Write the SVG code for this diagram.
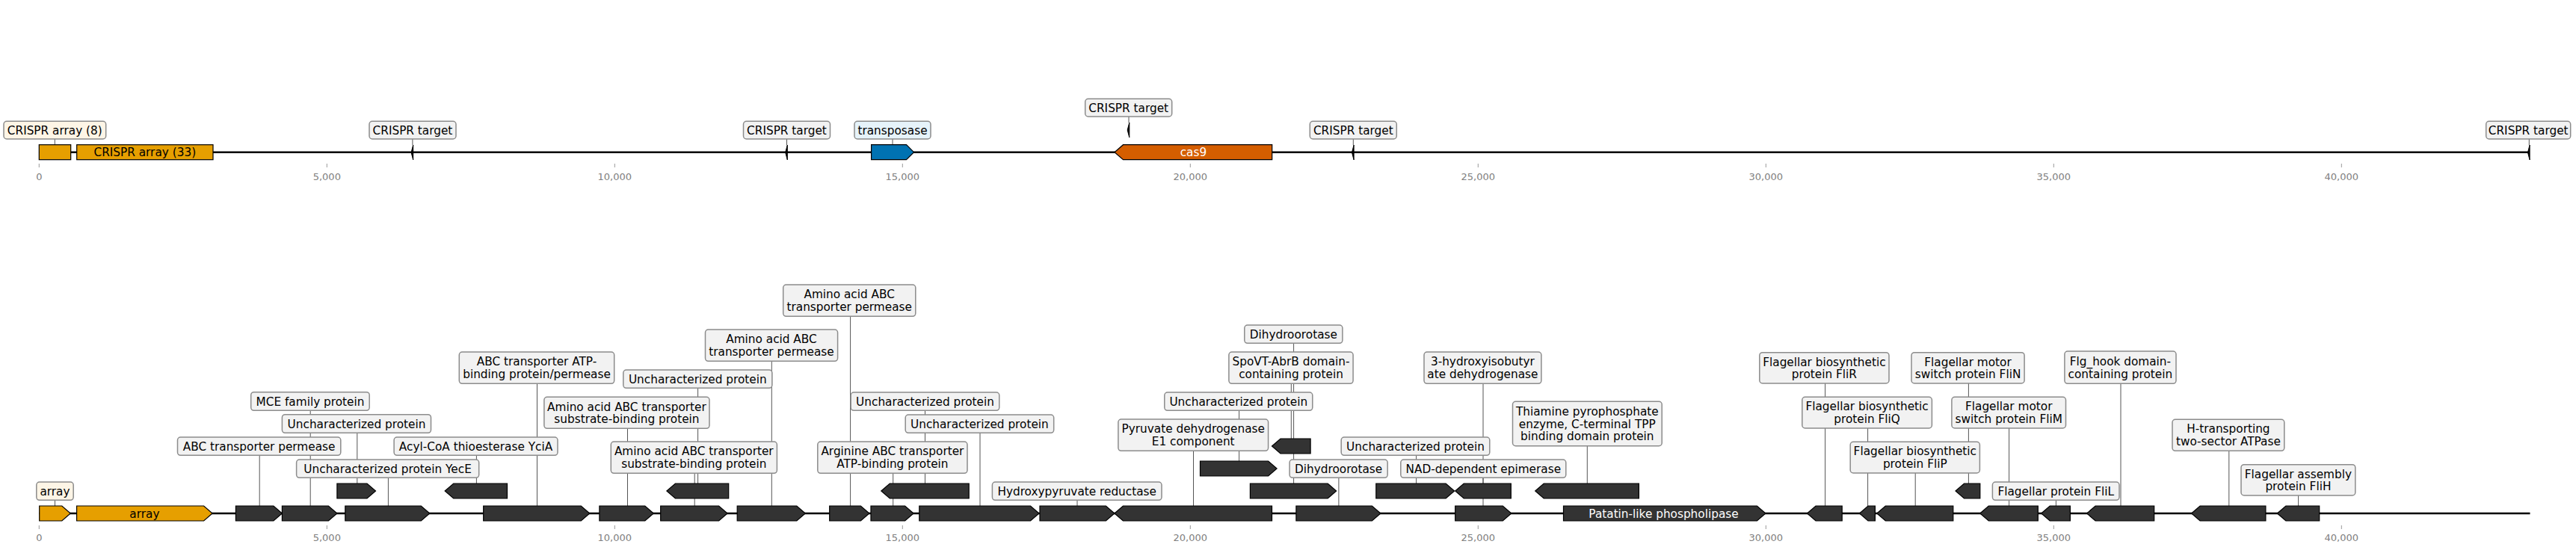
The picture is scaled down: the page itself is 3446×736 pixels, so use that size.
<svg xmlns="http://www.w3.org/2000/svg" width="3446" height="736" viewBox="0 0 3446 736">
<style>
text{font-family:"DejaVu Sans","Liberation Sans",sans-serif}
.t{font-size:15.3px;text-anchor:middle;fill:#000}
.tw{font-size:15.3px;text-anchor:middle;fill:#fff}
.tk{font-size:13px;text-anchor:middle;fill:#808080}
.bx{fill:#f2f2f2;stroke:#8c8c8c;stroke-width:1.5;rx:4px;ry:4px}
.bo{fill:#fdf5e6;stroke:#8c8c8c;stroke-width:1.5;rx:4px;ry:4px}
.bb{fill:#e6f3fa;stroke:#8c8c8c;stroke-width:1.5;rx:4px;ry:4px}
.g{fill:#333;stroke:#000;stroke-width:1.2}
.go{fill:#e69f00;stroke:#000;stroke-width:1.2}
.gb{fill:#0072b2;stroke:#000;stroke-width:1.2}
.gr{fill:#d55e00;stroke:#000;stroke-width:1.2}
.mk{fill:#000;stroke:#000;stroke-width:1}
.bk{stroke:#000;stroke-width:2.4;fill:none}
.c{stroke:#555;stroke-width:1;fill:none}
.tm{stroke:#999;stroke-width:1}
</style>
<rect width="3446" height="736" fill="#fff"/>

<g id="axes">
<line class="bk" x1="52.3" y1="203.7" x2="3383.3" y2="203.7"/>
<line class="bk" x1="52.3" y1="687" x2="3384.5" y2="687"/>
<g id="ticks-top">
<line class="tm" x1="52.3" y1="219" x2="52.3" y2="224"/><text class="tk" x="52.3" y="240.5">0</text>
<line class="tm" x1="437.3" y1="219" x2="437.3" y2="224"/><text class="tk" x="437.3" y="240.5">5,000</text>
<line class="tm" x1="822.3" y1="219" x2="822.3" y2="224"/><text class="tk" x="822.3" y="240.5">10,000</text>
<line class="tm" x1="1207.3" y1="219" x2="1207.3" y2="224"/><text class="tk" x="1207.3" y="240.5">15,000</text>
<line class="tm" x1="1592.3" y1="219" x2="1592.3" y2="224"/><text class="tk" x="1592.3" y="240.5">20,000</text>
<line class="tm" x1="1977.3" y1="219" x2="1977.3" y2="224"/><text class="tk" x="1977.3" y="240.5">25,000</text>
<line class="tm" x1="2362.3" y1="219" x2="2362.3" y2="224"/><text class="tk" x="2362.3" y="240.5">30,000</text>
<line class="tm" x1="2747.3" y1="219" x2="2747.3" y2="224"/><text class="tk" x="2747.3" y="240.5">35,000</text>
<line class="tm" x1="3132.3" y1="219" x2="3132.3" y2="224"/><text class="tk" x="3132.3" y="240.5">40,000</text>
</g>
<g id="ticks-bottom">
<line class="tm" x1="52.3" y1="703" x2="52.3" y2="708"/><text class="tk" x="52.3" y="724">0</text>
<line class="tm" x1="437.3" y1="703" x2="437.3" y2="708"/><text class="tk" x="437.3" y="724">5,000</text>
<line class="tm" x1="822.3" y1="703" x2="822.3" y2="708"/><text class="tk" x="822.3" y="724">10,000</text>
<line class="tm" x1="1207.3" y1="703" x2="1207.3" y2="708"/><text class="tk" x="1207.3" y="724">15,000</text>
<line class="tm" x1="1592.3" y1="703" x2="1592.3" y2="708"/><text class="tk" x="1592.3" y="724">20,000</text>
<line class="tm" x1="1977.3" y1="703" x2="1977.3" y2="708"/><text class="tk" x="1977.3" y="724">25,000</text>
<line class="tm" x1="2362.3" y1="703" x2="2362.3" y2="708"/><text class="tk" x="2362.3" y="724">30,000</text>
<line class="tm" x1="2747.3" y1="703" x2="2747.3" y2="708"/><text class="tk" x="2747.3" y="724">35,000</text>
<line class="tm" x1="3132.3" y1="703" x2="3132.3" y2="708"/><text class="tk" x="3132.3" y="724">40,000</text>
</g>
</g>

<g id="connectors">
<line class="c" x1="73.3" y1="186" x2="73.3" y2="193.7"/>
<line class="c" x1="551.9" y1="186" x2="551.9" y2="194"/>
<line class="c" x1="1052.5" y1="186" x2="1052.5" y2="194"/>
<line class="c" x1="1194" y1="186" x2="1194" y2="193.7"/>
<line class="c" x1="1510" y1="156" x2="1510" y2="164"/>
<line class="c" x1="1810.3" y1="186" x2="1810.3" y2="194"/>
<line class="c" x1="3383.3" y1="186" x2="3383.3" y2="194"/>

<line class="c" x1="73.5" y1="677" x2="73.5" y2="669.3"/>
<line class="c" x1="347.2" y1="677" x2="347.2" y2="609.3"/>
<line class="c" x1="415.2" y1="677" x2="415.2" y2="549.3"/>
<line class="c" x1="477.8" y1="647" x2="477.8" y2="579.3"/>
<line class="c" x1="519.4" y1="677" x2="519.4" y2="639.3"/>
<line class="c" x1="637.4" y1="647" x2="637.4" y2="609.3"/>
<line class="c" x1="718.5" y1="677" x2="718.5" y2="513.3"/>
<line class="c" x1="839.5" y1="677" x2="839.5" y2="573.3"/>
<line class="c" x1="929.2" y1="677" x2="929.2" y2="633.3"/>
<line class="c" x1="933.6" y1="647" x2="933.6" y2="519.3"/>
<line class="c" x1="1032.3" y1="677" x2="1032.3" y2="483.3"/>
<line class="c" x1="1137.6" y1="677" x2="1137.6" y2="423.3"/>
<line class="c" x1="1194.7" y1="677" x2="1194.7" y2="633.3"/>
<line class="c" x1="1237.5" y1="647" x2="1237.5" y2="549.3"/>
<line class="c" x1="1311" y1="677" x2="1311" y2="579.3"/>
<line class="c" x1="1441" y1="677" x2="1441" y2="669.3"/>
<line class="c" x1="1596.5" y1="677" x2="1596.5" y2="603.3"/>
<line class="c" x1="1657.6" y1="617" x2="1657.6" y2="549.3"/>
<line class="c" x1="1727.3" y1="587" x2="1727.3" y2="513.3"/>
<line class="c" x1="1730.6" y1="647" x2="1730.6" y2="459.3"/>
<line class="c" x1="1790.9" y1="677" x2="1790.9" y2="639.3"/>
<line class="c" x1="1894.6" y1="647" x2="1894.6" y2="609.3"/>
<line class="c" x1="1984" y1="647" x2="1984" y2="639.3"/>
<line class="c" x1="1984" y1="677" x2="1984" y2="513.3"/>
<line class="c" x1="2123.3" y1="647" x2="2123.3" y2="596.7"/>
<line class="c" x1="2441.6" y1="677" x2="2441.6" y2="513"/>
<line class="c" x1="2498.6" y1="677" x2="2498.6" y2="573"/>
<line class="c" x1="2562.2" y1="677" x2="2562.2" y2="633"/>
<line class="c" x1="2633.4" y1="647" x2="2633.4" y2="513"/>
<line class="c" x1="2687.6" y1="677" x2="2687.6" y2="573"/>
<line class="c" x1="2750.4" y1="677" x2="2750.4" y2="669.3"/>
<line class="c" x1="2837" y1="677" x2="2837" y2="513.3"/>
<line class="c" x1="2981.8" y1="677" x2="2981.8" y2="603.3"/>
<line class="c" x1="3074.6" y1="677" x2="3074.6" y2="663"/>
</g>

<!-- top track -->
<g id="t-array8"><rect class="go" x="52.3" y="193.7" width="42.4" height="20"/>
<rect class="bo" x="5" y="162.3" width="136.7" height="23.7"/><text class="t" x="73.3" y="179.6">CRISPR array (8)</text></g>
<g id="t-array33"><rect class="go" x="102.7" y="193.7" width="182.3" height="20"/><text class="t" x="193.8" y="209.2">CRISPR array (33)</text></g>
<g id="t-target1"><polygon class="mk" points="552.7,194 552.7,214 550.1,204"/>
<rect class="bx" x="494" y="162.3" width="116" height="23.7"/><text class="t" x="552" y="179.6">CRISPR target</text></g>
<g id="t-target2"><polygon class="mk" points="1053.3,194 1053.3,214 1050.7,204"/>
<rect class="bx" x="994.5" y="162.3" width="116" height="23.7"/><text class="t" x="1052.5" y="179.6">CRISPR target</text></g>
<g id="t-transposase"><polygon class="gb" points="1165.6,193.7 1212.5,193.7 1222.5,203.7 1212.5,213.7 1165.6,213.7"/>
<rect class="bb" x="1143" y="162.3" width="102" height="23.7"/><text class="t" x="1194" y="179.6">transposase</text></g>
<g id="t-target-cas"><polygon class="mk" points="1510.8,164 1510.8,184 1508.2,174"/>
<rect class="bx" x="1451.7" y="132.3" width="116" height="23.7"/><text class="t" x="1509.7" y="149.6">CRISPR target</text></g>
<g id="t-cas9"><polygon class="gr" points="1491,203.7 1502.5,193.7 1701.7,193.7 1701.7,213.7 1502.5,213.7"/><text class="tw" x="1596.4" y="209.2">cas9</text></g>
<g id="t-target3"><polygon class="mk" points="1811.1,194 1811.1,214 1808.5,204"/>
<rect class="bx" x="1752.3" y="162.3" width="116" height="23.7"/><text class="t" x="1810.3" y="179.6">CRISPR target</text></g>
<g id="t-target4"><polygon class="mk" points="3384.1,194 3384.1,214 3381.5,204"/>
<rect class="bx" x="3325.7" y="162.3" width="113" height="23.7"/><text class="t" x="3382.2" y="179.6">CRISPR target</text></g>

<!-- bottom track -->
<g id="b1"><polygon class="go" points="52.7,677 82.8,677 94.3,687 82.8,697 52.7,697"/>
<rect class="bo" x="48.8" y="645" width="49.4" height="24.3"/><text class="t" x="73.5" y="662.6">array</text></g>
<g id="b2"><polygon class="go" points="102.6,677 272.6,677 284.1,687 272.6,697 102.6,697"/><text class="t" x="193.4" y="692.5">array</text></g>
<g id="b3"><polygon class="g" points="315.4,677 365.9,677 377.4,687 365.9,697 315.4,697"/>
<rect class="bx" x="237.5" y="585" width="218.3" height="24.3"/><text class="t" x="346.6" y="602.6">ABC transporter permease</text></g>
<g id="b4"><polygon class="g" points="377.4,677 439.4,677 450.9,687 439.4,697 377.4,697"/>
<rect class="bx" x="335.7" y="524.7" width="158.5" height="24.6"/><text class="t" x="415" y="542.5">MCE family protein</text></g>
<g id="b5"><polygon class="g" points="450.9,647 491,647 502.5,657 491,667 450.9,667"/>
<rect class="bx" x="377.4" y="554.7" width="199.1" height="24.6"/><text class="t" x="477" y="572.5">Uncharacterized protein</text></g>
<g id="b6"><polygon class="g" points="461.8,677 563.3,677 574.8,687 563.3,697 461.8,697"/>
<rect class="bx" x="396.6" y="615" width="244.1" height="24.3"/><text class="t" x="518.6" y="632.6">Uncharacterized protein YecE</text></g>
<g id="b7"><polygon class="g" points="595.2,657 606.7,647 678.5,647 678.5,667 606.7,667"/>
<rect class="bx" x="527.1" y="585" width="218.9" height="24.3"/><text class="t" x="636.5" y="602.6">Acyl-CoA thioesterase YciA</text></g>
<g id="b8"><polygon class="g" points="646.7,677 777.3,677 788.8,687 777.3,697 646.7,697"/>
<rect class="bx" x="614.3" y="471" width="207.4" height="42.3"/><text class="t" x="718" y="489.3">ABC transporter ATP-<tspan x="718" y="506">binding protein/permease</tspan></text></g>
<g id="b9"><polygon class="g" points="801.9,677 862.8,677 874.3,687 862.8,697 801.9,697"/>
<rect class="bx" x="727.9" y="531.3" width="221.1" height="42"/><text class="t" x="838.4" y="549.5">Amino acid ABC transporter<tspan x="838.4" y="566.2">substrate-binding protein</tspan></text></g>
<g id="b10"><polygon class="g" points="883.7,677 961.6,677 973.1,687 961.6,697 883.7,697"/>
<rect class="bx" x="817.3" y="591" width="222.1" height="42.3"/><text class="t" x="928.3" y="609.3">Amino acid ABC transporter<tspan x="928.3" y="626">substrate-binding protein</tspan></text></g>
<g id="b11"><polygon class="g" points="891.9,657 903.4,647 974.7,647 974.7,667 903.4,667"/>
<rect class="bx" x="833.8" y="495" width="199.1" height="24.3"/><text class="t" x="933.3" y="512.6">Uncharacterized protein</text></g>
<g id="b12"><polygon class="g" points="986.2,677 1065.8,677 1077.3,687 1065.8,697 986.2,697"/>
<rect class="bx" x="943.5" y="441" width="177.1" height="42.3"/><text class="t" x="1032" y="459.3">Amino acid ABC<tspan x="1032" y="476">transporter permease</tspan></text></g>
<g id="b13"><polygon class="g" points="1109.7,677 1151.4,677 1162.9,687 1151.4,697 1109.7,697"/>
<rect class="bx" x="1047.7" y="381" width="177.1" height="42.3"/><text class="t" x="1136.2" y="399.3">Amino acid ABC<tspan x="1136.2" y="416">transporter permease</tspan></text></g>
<g id="b14"><polygon class="g" points="1165,677 1210.6,677 1222.1,687 1210.6,697 1165,697"/>
<rect class="bx" x="1093.8" y="591" width="200.2" height="42.3"/><text class="t" x="1193.9" y="609.3">Arginine ABC transporter<tspan x="1193.9" y="626">ATP-binding protein</tspan></text></g>
<g id="b15"><polygon class="g" points="1178.8,657 1190.3,647 1296.2,647 1296.2,667 1190.3,667"/>
<rect class="bx" x="1138.2" y="525" width="198.6" height="24.3"/><text class="t" x="1237.5" y="542.6">Uncharacterized protein</text></g>
<g id="b16"><polygon class="g" points="1229.8,677 1378.5,677 1390,687 1378.5,697 1229.8,697"/>
<rect class="bx" x="1211.2" y="555" width="198.5" height="24.3"/><text class="t" x="1310.4" y="572.6">Uncharacterized protein</text></g>
<g id="b17"><polygon class="g" points="1391,677 1479.4,677 1490.9,687 1479.4,697 1391,697"/>
<rect class="bx" x="1327.4" y="645" width="226.6" height="24.3"/><text class="t" x="1440.7" y="662.6">Hydroxypyruvate reductase</text></g>
<g id="b18"><polygon class="g" points="1490.9,687 1502.4,677 1701.5,677 1701.5,697 1502.4,697"/>
<rect class="bx" x="1495.9" y="561" width="200.7" height="42.3"/><text class="t" x="1596.2" y="579.3">Pyruvate dehydrogenase<tspan x="1596.2" y="596">E1 component</tspan></text></g>
<g id="b19"><polygon class="g" points="1605.5,617 1696.6,617 1708.1,627 1696.6,637 1605.5,637"/>
<rect class="bx" x="1557.8" y="525" width="198" height="24.3"/><text class="t" x="1656.8" y="542.6">Uncharacterized protein</text></g>
<g id="b20"><polygon class="g" points="1701.5,597 1713,587 1753.1,587 1753.1,607 1713,607"/>
<rect class="bx" x="1643.9" y="471" width="166.2" height="42.3"/><text class="t" x="1727" y="489.3">SpoVT-AbrB domain-<tspan x="1727" y="506">containing protein</tspan></text></g>
<g id="b21"><polygon class="g" points="1672.4,647 1776.1,647 1787.6,657 1776.1,667 1672.4,667"/>
<rect class="bx" x="1664.8" y="435" width="131.1" height="24.3"/><text class="t" x="1730.3" y="452.6">Dihydroorotase</text></g>
<g id="b22"><polygon class="g" points="1733.9,677 1835.4,677 1846.9,687 1835.4,697 1733.9,697"/>
<rect class="bx" x="1725.1" y="615" width="131.1" height="24.3"/><text class="t" x="1790.6" y="632.6">Dihydroorotase</text></g>
<g id="b23"><polygon class="g" points="1840.8,647 1934.1,647 1945.6,657 1934.1,667 1840.8,667"/>
<rect class="bx" x="1794.2" y="585" width="198.6" height="24.3"/><text class="t" x="1893.5" y="602.6">Uncharacterized protein</text></g>
<g id="b24"><polygon class="g" points="1946.7,657 1958.2,647 2021.3,647 2021.3,667 1958.2,667"/>
<rect class="bx" x="1873.8" y="615" width="221" height="24.3"/><text class="t" x="1984.3" y="632.6">NAD-dependent epimerase</text></g>
<g id="b25"><polygon class="g" points="1946.7,677 2010.3,677 2021.8,687 2010.3,697 1946.7,697"/>
<rect class="bx" x="1905" y="471" width="156.9" height="42.3"/><text class="t" x="1983.4" y="489.3">3-hydroxyisobutyr<tspan x="1983.4" y="506">ate dehydrogenase</tspan></text></g>
<g id="b26"><polygon class="g" points="2053.7,657 2065.2,647 2192.4,647 2192.4,667 2065.2,667"/>
<rect class="bx" x="2023.5" y="537.3" width="199.7" height="59.4"/><text class="t" x="2123.3" y="555.8">Thiamine pyrophosphate<tspan x="2123.3" y="572.5">enzyme, C-terminal TPP</tspan><tspan x="2123.3" y="589.2">binding domain protein</tspan></text></g>
<g id="b27"><polygon class="g" points="2091.5,677 2350.4,677 2361.9,687 2350.4,697 2091.5,697"/><text class="tw" x="2225.5" y="692.5">Patatin-like phospholipase</text></g>
<g id="b28"><polygon class="g" points="2417.5,687 2429,677 2464.2,677 2464.2,697 2429,697"/>
<rect class="bx" x="2353.8" y="471.7" width="173.2" height="41.3"/><text class="t" x="2440.4" y="489.5">Flagellar biosynthetic<tspan x="2440.4" y="506.2">protein FliR</tspan></text></g>
<g id="b29"><polygon class="g" points="2487.5,687 2499,677 2508.4,677 2508.4,697 2499,697"/>
<rect class="bx" x="2410.8" y="531.3" width="173.6" height="41.7"/><text class="t" x="2497.6" y="549.3">Flagellar biosynthetic<tspan x="2497.6" y="566">protein FliQ</tspan></text></g>
<g id="b30"><polygon class="g" points="2510.8,687 2522.3,677 2612.8,677 2612.8,697 2522.3,697"/>
<rect class="bx" x="2475.2" y="591.3" width="173.2" height="41.7"/><text class="t" x="2561.8" y="609.3">Flagellar biosynthetic<tspan x="2561.8" y="626">protein FliP</tspan></text></g>
<g id="b31"><polygon class="g" points="2616,657 2627.5,647 2648.8,647 2648.8,667 2627.5,667"/>
<rect class="bx" x="2557" y="471.7" width="151.1" height="41.3"/><text class="t" x="2632.5" y="489.5">Flagellar motor<tspan x="2632.5" y="506.2">switch protein FliN</tspan></text></g>
<g id="b32"><polygon class="g" points="2648.8,687 2660.3,677 2726.3,677 2726.3,697 2660.3,697"/>
<rect class="bx" x="2610.9" y="531.3" width="152.6" height="41.7"/><text class="t" x="2687.2" y="549.3">Flagellar motor<tspan x="2687.2" y="566">switch protein FliM</tspan></text></g>
<g id="b33"><polygon class="g" points="2730.7,687 2742.2,677 2769.4,677 2769.4,697 2742.2,697"/>
<rect class="bx" x="2665.4" y="645" width="169.6" height="24.3"/><text class="t" x="2750.2" y="662.6">Flagellar protein FliL</text></g>
<g id="b34"><polygon class="g" points="2791.6,687 2803.1,677 2881.7,677 2881.7,697 2803.1,697"/>
<rect class="bx" x="2761.9" y="470" width="149.1" height="43.3"/><text class="t" x="2836.4" y="488.8">Flg_hook domain-<tspan x="2836.4" y="505.5">containing protein</tspan></text></g>
<g id="b35"><polygon class="g" points="2931.6,687 2943.1,677 3030.9,677 3030.9,697 2943.1,697"/>
<rect class="bx" x="2906" y="561.3" width="149.8" height="42"/><text class="t" x="2980.9" y="579.4">H-transporting<tspan x="2980.9" y="596.1">two-sector ATPase</tspan></text></g>
<g id="b36"><polygon class="g" points="3046.4,687 3057.9,677 3102.7,677 3102.7,697 3057.9,697"/>
<rect class="bx" x="2998" y="621.7" width="152.8" height="41.3"/><text class="t" x="3074.4" y="639.5">Flagellar assembly<tspan x="3074.4" y="656.2">protein FliH</tspan></text></g>
</svg>
